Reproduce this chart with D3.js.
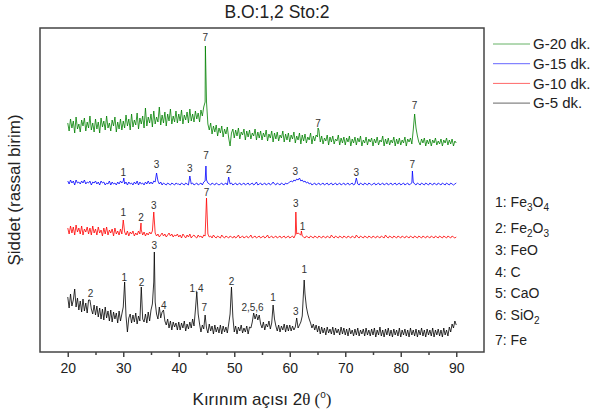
<!DOCTYPE html>
<html>
<head>
<meta charset="utf-8">
<script src="https://cdn.jsdelivr.net/npm/d3@7"></script>
<style>
  body { margin: 0; background: #fff; }
  svg { font-family: "Liberation Sans", Arial, sans-serif; }
</style>
</head>
<body>
<div id="chart"></div>
<script>
// Intensity, one value every 0.25 deg from 20 to 90
// (each row below covers 5 deg)
const gridStart = 20;
const gridStep = 0.25;

const g20Grid = [
  229, 221, 233, 224, 231, 219, 235, 223, 228, 220, 232, 226, 234, 221, 230, 224, 236, 222, 229, 220,
  233, 223, 230, 219, 234, 225, 231, 222, 236, 224, 229, 221, 232, 226, 235, 220, 230, 223, 233, 222,
  231, 224, 237, 226, 233, 222, 238, 225, 232, 227, 239, 223, 234, 228, 236, 224, 244, 226, 235, 229,
  238, 225, 241, 228, 235, 230, 245, 227, 237, 229, 240, 226, 238, 231, 243, 228, 236, 230, 241, 229,
  238, 231, 242, 228, 237, 232, 240, 229, 243, 231, 238, 230, 241, 233, 239, 230, 242, 236, 245, 250,
  250, 228, 222, 229, 218, 226, 220, 227, 216, 224, 219, 226, 215, 223, 218, 225, 214, 206, 219, 223,
  214, 222, 216, 224, 213, 220, 217, 223, 212, 221, 215, 222, 213, 219, 216, 223, 212, 220, 214, 221,
  212, 219, 215, 222, 211, 218, 214, 221, 210, 219, 213, 220, 211, 217, 214, 221, 210, 218, 212, 219,
  210, 217, 213, 220, 209, 216, 212, 219, 208, 217, 211, 218, 209, 215, 212, 219, 208, 216, 211, 217,
  215, 222, 210, 216, 208, 214, 211, 217, 207, 215, 210, 216, 208, 213, 211, 217, 207, 214, 209, 215,
  207, 214, 210, 216, 206, 213, 209, 215, 207, 214, 210, 216, 206, 212, 209, 215, 207, 213, 210, 214,
  206, 213, 209, 215, 207, 212, 210, 216, 206, 213, 208, 214, 207, 212, 209, 215, 206, 213, 208, 214,
  207, 212, 209, 215, 206, 213, 210, 214, 208, 222, 238, 224, 216, 210, 207, 213, 209, 214, 206, 212,
  208, 213, 206, 212, 209, 214, 207, 211, 208, 213, 206, 212, 209, 214, 207, 212, 208, 213, 206, 211,
  209
];
const g15Grid = [
  171, 168, 172, 169, 171, 167, 172, 169, 170, 168, 171, 169, 172, 168, 170, 169, 171, 167, 170, 169,
  171, 168, 170, 167, 171, 169, 170, 167, 169, 168, 171, 167, 170, 168, 169, 167, 170, 168, 171, 169,
  171, 168, 170, 167, 170, 168, 169, 167, 170, 168, 171, 167, 170, 168, 169, 167, 170, 168, 171, 168,
  170, 168, 171, 170, 179, 171, 168, 170, 167, 169, 168, 167, 169, 168, 167, 169, 168, 167, 169, 168,
  168, 167, 169, 168, 167, 169, 168, 167, 176, 168, 169, 167, 168, 169, 167, 168, 169, 167, 170, 171,
  172, 169, 168, 167, 169, 168, 167, 169, 168, 167, 168, 169, 167, 168, 169, 167, 175, 168, 169, 167,
  168, 169, 167, 168, 169, 167, 168, 169, 167, 168, 169, 167, 168, 169, 167, 168, 170, 167, 168, 169,
  167, 168, 169, 167, 168, 169, 167, 168, 170, 168, 167, 169, 168, 167, 169, 168, 167, 169, 168, 169,
  170, 171, 170, 172, 171, 173, 172, 174, 171, 172, 170, 171, 169, 170, 168, 169, 167, 168, 169, 167,
  168, 169, 167, 168, 169, 167, 168, 169, 167, 168, 169, 167, 168, 169, 167, 168, 169, 167, 168, 169,
  167, 168, 169, 167, 168, 169, 167, 168, 174, 168, 167, 169, 168, 167, 169, 168, 167, 169, 168, 167,
  168, 169, 167, 168, 169, 167, 168, 169, 167, 168, 169, 167, 168, 169, 167, 168, 169, 167, 168, 169,
  167, 168, 169, 167, 168, 169, 167, 168, 169, 170, 168, 167, 169, 168, 167, 169, 168, 167, 169, 168,
  167, 169, 168, 167, 169, 168, 167, 169, 168, 167, 169, 168, 167, 169, 168, 167, 169, 168, 167, 168,
  169
];
const g10Grid = [
  124, 118, 126, 119, 125, 117, 127, 120, 124, 118, 126, 117, 123, 120, 125, 118, 124, 117, 126, 119,
  123, 117, 125, 119, 122, 116, 124, 118, 125, 117, 122, 119, 123, 116, 124, 118, 121, 117, 123, 118,
  132, 120, 117, 121, 116, 120, 118, 121, 116, 119, 117, 121, 118, 122, 117, 120, 116, 119, 117, 120,
  118, 121, 140, 119, 116, 118, 115, 117, 119, 116, 118, 115, 117, 119, 116, 118, 115, 117, 116, 118,
  115, 117, 114, 118, 116, 114, 117, 115, 118, 114, 116, 117, 115, 114, 117, 115, 116, 114, 117, 116,
  154, 118, 115, 116, 114, 117, 115, 114, 116, 115, 114, 117, 115, 114, 116, 115, 114, 116, 115, 114,
  116, 114, 115, 117, 114, 115, 116, 114, 115, 116, 114, 115, 117, 114, 115, 116, 114, 115, 116, 114,
  115, 116, 114, 115, 117, 114, 115, 116, 114, 115, 116, 114, 115, 116, 114, 115, 116, 114, 115, 116,
  114, 115, 116, 114, 117, 118, 119, 118, 117, 116, 115, 114, 116, 115, 114, 116, 115, 114, 116, 115,
  114, 116, 115, 114, 116, 115, 114, 116, 115, 114, 117, 115, 114, 116, 115, 114, 116, 115, 114, 116,
  115, 114, 116, 115, 114, 116, 115, 114, 117, 115, 114, 116, 115, 114, 116, 115, 114, 116, 115, 114,
  116, 115, 114, 116, 115, 114, 116, 115, 114, 117, 115, 114, 116, 115, 114, 116, 115, 114, 116, 115,
  114, 116, 115, 114, 116, 115, 114, 116, 115, 114, 116, 115, 114, 116, 115, 114, 116, 115, 114, 116,
  115, 114, 116, 115, 114, 116, 115, 114, 116, 115, 114, 116, 115, 114, 116, 115, 114, 116, 115, 114,
  115
];
const g5Grid = [
  55, 44, 58, 46, 52, 63, 45, 54, 42, 51, 40, 53, 41, 49, 39, 52, 52, 43, 38, 47,
  37, 46, 35, 44, 33, 43, 32, 45, 34, 41, 31, 42, 30, 40, 33, 39, 29, 41, 31, 38,
  45, 70, 36, 20, 34, 38, 29, 37, 30, 39, 28, 36, 31, 65, 33, 30, 38, 29, 40, 31,
  42, 48, 70, 50, 38, 33, 45, 34, 40, 42, 31, 27, 33, 24, 31, 22, 30, 25, 29, 22,
  30, 22, 29, 24, 31, 21, 28, 23, 30, 24, 33, 26, 42, 60, 38, 28, 20, 27, 23, 37,
  24, 19, 28, 21, 26, 18, 27, 20, 25, 19, 27, 18, 26, 20, 25, 19, 28, 38, 65, 35,
  20, 26, 18, 25, 21, 27, 19, 24, 20, 26, 18, 25, 24, 30, 39, 33, 38, 32, 37, 28,
  24, 30, 22, 28, 25, 31, 23, 29, 47, 33, 26, 21, 27, 20, 26, 22, 28, 20, 27, 21,
  27, 21, 26, 22, 25, 34, 24, 27, 30, 36, 62, 58, 45, 38, 33, 29, 24, 28, 22, 27,
  20, 26, 18, 25, 19, 24, 17, 25, 19, 23, 18, 25, 17, 24, 19, 23, 17, 25, 18, 24,
  17, 23, 16, 24, 18, 22, 16, 23, 17, 24, 16, 22, 18, 23, 16, 24, 17, 22, 16, 23,
  17, 24, 15, 22, 17, 25, 16, 22, 15, 23, 17, 24, 16, 22, 15, 23, 17, 22, 16, 24,
  15, 22, 17, 23, 16, 22, 15, 24, 17, 22, 16, 23, 15, 22, 17, 24, 16, 22, 15, 23,
  17, 22, 16, 24, 15, 22, 17, 23, 16, 22, 15, 24, 17, 22, 16, 25, 20, 28, 24, 31,
  27
];

// Peak tops that fall between grid points: [angle, intensity]
const g20Peaks = [[44.8, 306], [65.1, 224]];
const g15Peaks = [[30.1, 174], [44.9, 186], [82.1, 181]];
const g10Peaks = [[33.2, 129], [61.1, 140], [62.1, 121]];
const g5Peaks = [[35.6, 100], [62.6, 72]];

// Phase numbers written over the peaks: [angle, height, text]
const g20Marks = [[44.8, 315, "7"], [65.1, 229, "7"], [82.5, 247, "7"]];
const g15Marks = [
  [30.0, 180, "1"], [36.0, 188, "3"], [42.0, 184, "3"], [44.9, 197, "7"],
  [49.0, 183, "2"], [61.0, 181, "3"], [72.0, 180, "3"], [82.1, 188, "7"]
];
const g10Marks = [
  [30.0, 140, "1"], [33.2, 135, "2"], [35.5, 147, "3"], [45.0, 160, "7"],
  [61.1, 149, "3"], [62.3, 126, "1"]
];
const g5Marks = [
  [24.1, 59, "2"], [30.2, 75, "1"], [33.3, 70, "2"], [35.6, 107, "3"],
  [37.3, 47, "4"], [43.2, 64, "1,4"], [44.6, 45, "7"], [49.5, 71, "2"],
  [53.3, 45, "2,5,6"], [57.0, 55, "1"], [61.1, 41, "3"], [62.6, 83, "1"]
];

const seriesNames = ["G-20 dk.", "G-15 dk.", "G-10 dk.", "G-5 dk."];
const seriesColors = ["#008000", "#0000ff", "#ff0000", "#000000"];

const xTicks = [20, 30, 40, 50, 60, 70, 80, 90];
const xMinorTicks = [25, 35, 45, 55, 65, 75, 85];

// phase key: [number, parts] where parts are [text, isSubscript]
const phaseKey = [
  ["1: ", [["Fe", 0], ["3", 1], ["O", 0], ["4", 1]]],
  ["2: ", [["Fe", 0], ["2", 1], ["O", 0], ["3", 1]]],
  ["3: ", [["FeO", 0]]],
  ["4: ", [["C", 0]]],
  ["5: ", [["CaO", 0]]],
  ["6: ", [["SiO", 0], ["2", 1]]],
  ["7: ", [["Fe", 0]]]
];

function buildSeries(grid, peaks) {
  if (grid.length !== 281) console.error("grid length", grid.length);
  const pts = grid.map((v, i) => ({ angle: gridStart + i * gridStep, value: v }));
  peaks.forEach((p) => {
    const hit = pts.find((d) => Math.abs(d.angle - p[0]) < 1e-6);
    if (hit) hit.value = p[1];
    else pts.push({ angle: p[0], value: p[1] });
  });
  pts.sort((a, b) => a.angle - b.angle);
  return pts;
}

const series = [
  { data: buildSeries(g20Grid, g20Peaks), marks: g20Marks },
  { data: buildSeries(g15Grid, g15Peaks), marks: g15Marks },
  { data: buildSeries(g10Grid, g10Peaks), marks: g10Marks },
  { data: buildSeries(g5Grid, g5Peaks), marks: g5Marks }
];

const width = 597;
const height = 414;
const plot = { left: 40, top: 28, right: 484, bottom: 352 };

const svg = d3
  .select("#chart")
  .append("svg")
  .attr("width", width)
  .attr("height", height);

const xScale = d3.scaleLinear().domain([15, 95]).range([plot.left, plot.right]);
const yScale = d3.scaleLinear().domain([0, 324]).range([plot.bottom, plot.top]);

// Title
svg
  .append("text")
  .attr("x", 277)
  .attr("y", 18)
  .attr("text-anchor", "middle")
  .attr("font-size", 17.5)
  .attr("fill", "#222")
  .text("B.O:1,2 Sto:2");

// Patterns
const line = d3
  .line()
  .x((d) => xScale(d.angle))
  .y((d) => yScale(d.value));

series.forEach((s, i) => {
  svg
    .append("path")
    .datum(s.data)
    .attr("d", line)
    .attr("fill", "none")
    .attr("stroke", seriesColors[i])
    .attr("stroke-width", 0.8)
    .attr("stroke-linejoin", "round");

  svg
    .append("g")
    .selectAll("text")
    .data(s.marks)
    .enter()
    .append("text")
    .attr("x", (d) => xScale(d[0]))
    .attr("y", (d) => yScale(d[1]))
    .attr("dy", "0.35em")
    .attr("text-anchor", "middle")
    .attr("font-size", 10)
    .attr("fill", "#333")
    .text((d) => d[2]);
});

// Frame
svg
  .append("rect")
  .attr("x", plot.left)
  .attr("y", plot.top)
  .attr("width", plot.right - plot.left)
  .attr("height", plot.bottom - plot.top)
  .attr("fill", "none")
  .attr("stroke", "#444")
  .attr("stroke-width", 1.5);

// X axis with minor ticks
const xAxis = d3
  .axisBottom(xScale)
  .tickValues(xTicks)
  .tickSize(5)
  .tickSizeOuter(0)
  .tickPadding(6);

const gx = svg
  .append("g")
  .attr("transform", `translate(0, ${plot.bottom})`)
  .call(xAxis);
gx.select(".domain").remove();
gx.selectAll("line").attr("stroke", "#444").attr("stroke-width", 1.5);
gx.selectAll("text")
  .attr("font-size", 14)
  .attr("fill", "#222")
  .attr("font-family", "Liberation Sans, Arial, sans-serif");

const gxMinor = svg
  .append("g")
  .attr("transform", `translate(0, ${plot.bottom})`)
  .call(d3.axisBottom(xScale).tickValues(xMinorTicks).tickSize(3).tickFormat(""));
gxMinor.select(".domain").remove();
gxMinor.selectAll("line").attr("stroke", "#444").attr("stroke-width", 1.5);

// Axis titles
const xTitle = svg
  .append("text")
  .attr("x", 262)
  .attr("y", 405)
  .attr("text-anchor", "middle")
  .attr("font-size", 17)
  .attr("fill", "#222");
xTitle.append("tspan").text("Kırınım açısı 2");
xTitle.append("tspan").attr("font-family", "Liberation Serif, serif").text("θ (");
xTitle
  .append("tspan")
  .attr("font-size", 10)
  .attr("dy", -7)
  .text("o");
xTitle
  .append("tspan")
  .attr("font-family", "Liberation Serif, serif")
  .attr("dy", 7)
  .text(")");

svg
  .append("text")
  .attr("transform", "translate(20, 190) rotate(-90)")
  .attr("text-anchor", "middle")
  .attr("font-size", 17)
  .attr("fill", "#222")
  .text("Şiddet (rassal birim)");

// Series legend
const legend = svg
  .append("g")
  .selectAll("g")
  .data(seriesNames)
  .enter()
  .append("g")
  .attr("transform", (d, i) => `translate(493, ${44 + i * 19.7})`);

legend
  .append("line")
  .attr("x1", 0)
  .attr("x2", 37)
  .attr("stroke", (d, i) => seriesColors[i])
  .attr("stroke-opacity", 0.6)
  .attr("stroke-width", 1);

legend
  .append("text")
  .attr("x", 40)
  .attr("dy", "0.35em")
  .attr("font-size", 15)
  .attr("fill", "#222")
  .text((d) => d);

// Phase key
const keyRows = [202, 228, 250, 272, 293, 315, 340];
const key = svg
  .append("g")
  .selectAll("text")
  .data(phaseKey)
  .enter()
  .append("text")
  .attr("x", 495)
  .attr("y", (d, i) => keyRows[i])
  .attr("dy", "0.35em")
  .attr("font-size", 14)
  .attr("fill", "#222");

key.each(function (d) {
  const t = d3.select(this);
  t.append("tspan").text(d[0]);
  let shifted = false;
  d[1].forEach((part) => {
    const span = t.append("tspan").text(part[0]);
    if (part[1] && !shifted) {
      span.attr("font-size", 10).attr("dy", 4);
      shifted = true;
    } else if (!part[1] && shifted) {
      span.attr("dy", -4);
      shifted = false;
    } else if (part[1]) {
      span.attr("font-size", 10);
    }
  });
});
</script>
</body>
</html>
